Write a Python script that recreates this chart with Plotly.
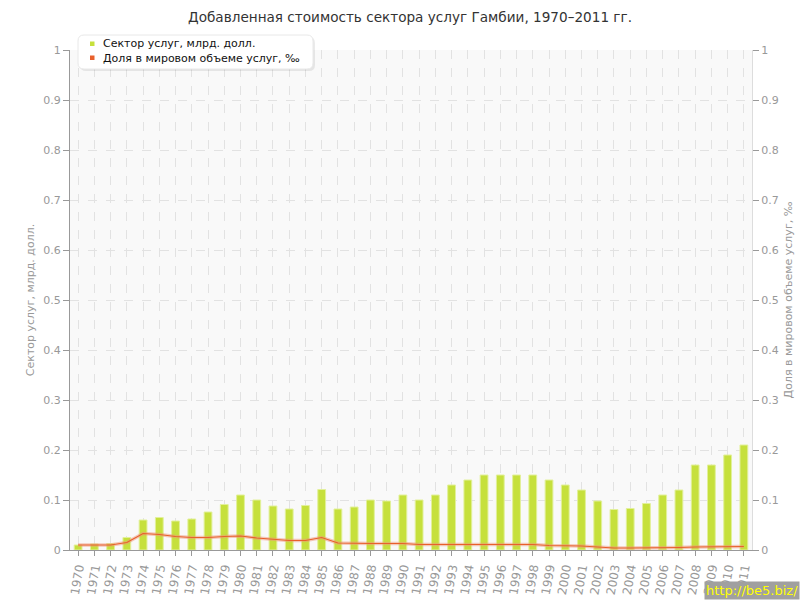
import plotly.graph_objects as go

years = [str(y) for y in range(1970, 2012)]
services = [0.01, 0.012, 0.013, 0.025, 0.06, 0.065, 0.058, 0.062, 0.076, 0.091,
            0.11, 0.10, 0.088, 0.082, 0.089, 0.121, 0.082, 0.086, 0.10, 0.098,
            0.11, 0.10, 0.11, 0.13, 0.14, 0.15, 0.15, 0.15, 0.15, 0.14,
            0.13, 0.12, 0.098, 0.081, 0.083, 0.093, 0.11, 0.12, 0.17, 0.17,
            0.19, 0.21]
share = [0.01, 0.01, 0.01, 0.015, 0.033, 0.031, 0.027, 0.025, 0.025, 0.027,
         0.028, 0.024, 0.021, 0.019, 0.019, 0.025, 0.014, 0.013, 0.013, 0.013,
         0.013, 0.011, 0.011, 0.011, 0.011, 0.011, 0.011, 0.011, 0.011, 0.009,
         0.009, 0.008, 0.006, 0.004, 0.004, 0.004, 0.005, 0.005, 0.006, 0.006,
         0.007, 0.007]
yticks = [0, 0.1, 0.2, 0.3, 0.4, 0.5, 0.6, 0.7, 0.8, 0.9, 1]
yticklabels = ["0", "0.1", "0.2", "0.3", "0.4", "0.5", "0.6", "0.7", "0.8", "0.9", "1"]

FONT = "DejaVu Sans"
GRAY = "#999999"
BAR_NAME = "Сектор услуг, млрд. долл."
LINE_NAME = "Доля в мировом объеме услуг, ‰"
BAR_COLOR = "#c6e03c"
LINE_COLOR = "#e8602c"

W, H = 800, 600
ML, MR, MT, MB = 70, 48, 50, 50
PW, PH = W - ML - MR, H - MT - MB


def px(x):
    return (x - ML) / PW


def py(y):
    return (H - MB - y) / PH


def rounded_rect(x0, y0, x1, y1, r):
    pts = [
        f"M {px(x0 + r)},{py(y0)}",
        f"L {px(x1 - r)},{py(y0)}",
        f"Q {px(x1)},{py(y0)} {px(x1)},{py(y0 + r)}",
        f"L {px(x1)},{py(y1 - r)}",
        f"Q {px(x1)},{py(y1)} {px(x1 - r)},{py(y1)}",
        f"L {px(x0 + r)},{py(y1)}",
        f"Q {px(x0)},{py(y1)} {px(x0)},{py(y1 - r)}",
        f"L {px(x0)},{py(y0 + r)}",
        f"Q {px(x0)},{py(y0)} {px(x0 + r)},{py(y0)}",
    ]
    return " ".join(pts) + " Z"


fig = go.Figure()
fig.add_trace(go.Bar(
    x=years, y=services, name=BAR_NAME, showlegend=False,
    marker=dict(color=BAR_COLOR, line=dict(color="#e2f09a", width=1)),
    width=0.48, yaxis="y"))
fig.add_trace(go.Scatter(
    x=years, y=share, mode="lines", line=dict(color="rgba(240,150,120,0.5)", width=3.5),
    yaxis="y2", showlegend=False, hoverinfo="skip"))
fig.add_trace(go.Scatter(
    x=years, y=share, name=LINE_NAME, showlegend=False,
    mode="lines", line=dict(color=LINE_COLOR, width=1.2), yaxis="y2"))

fig.update_layout(
    width=W, height=H,
    margin=dict(l=ML, r=MR, t=MT, b=MB),
    paper_bgcolor="white", plot_bgcolor="#f9f9f9",
    font=dict(family=FONT, size=11, color=GRAY),
    title=dict(text="Добавленная стоимость сектора услуг Гамбии, 1970–2011 гг.",
               x=410 / W, xanchor="center", y=1 - 17 / H, yanchor="middle",
               font=dict(family=FONT, size=13.6, color="#333333")),
    xaxis=dict(type="category", range=[-0.5, 41.5], tickangle=-80, automargin=False,
               showgrid=True, gridcolor="#e2e2e2", griddash="dash", gridwidth=1,
               showline=True, linecolor="#999999", ticks="outside", ticklen=5,
               tickcolor="#999999", tickfont=dict(size=12, color=GRAY),
               layer="above traces"),
    yaxis=dict(range=[0, 1], tickvals=yticks, ticktext=yticklabels, automargin=False,
               showgrid=True, gridcolor="#e2e2e2", griddash="dash",
               showline=True, linecolor="#999999", ticks="outside", ticklen=6,
               tickcolor="#999999", zeroline=False,
               title=dict(text=BAR_NAME, font=dict(size=11, color=GRAY), standoff=6)),
    yaxis2=dict(range=[0, 1], tickvals=yticks, ticktext=yticklabels, overlaying="y",
                automargin=False,
                side="right", showgrid=False, showline=True, linecolor="#dddddd",
                ticks="outside", ticklen=6, tickcolor="#999999", zeroline=False,
                title=dict(text=LINE_NAME, font=dict(size=11, color=GRAY), standoff=6)),
    showlegend=False,
)

# custom legend (box with shadow, square markers, text)
fig.add_shape(type="path", xref="paper", yref="paper",
              path=rounded_rect(80, 37, 315, 71, 6),
              fillcolor="rgba(0,0,0,0.08)", line=dict(width=0), layer="above")
fig.add_shape(type="path", xref="paper", yref="paper",
              path=rounded_rect(78, 35, 313, 69, 6),
              fillcolor="white", line=dict(color="#e8e8e8", width=1), layer="above")
for label, color, ycen in [(BAR_NAME, BAR_COLOR, 44), (LINE_NAME, LINE_COLOR, 58)]:
    fig.add_shape(type="rect", xref="paper", yref="paper",
                  x0=px(90), x1=px(94.5), y0=py(ycen - 2.5), y1=py(ycen + 2),
                  fillcolor=color, line=dict(width=0), layer="above")
    fig.add_annotation(text=label, xref="paper", yref="paper",
                       x=px(101), y=py(ycen), xanchor="left", yanchor="middle",
                       showarrow=False,
                       font=dict(family=FONT, size=11, color="#111111"))

fig.add_annotation(text="http://be5.biz/", xref="paper", yref="paper",
                   x=px(800), y=py(600), xanchor="right", yanchor="bottom",
                   showarrow=False, bgcolor="#a0a0a0", borderpad=1,
                   font=dict(family=FONT, size=13, color="#ffff00"))

fig.write_html("out.html", config={"displayModeBar": False},
               post_script="document.body.style.margin='0';document.body.style.overflow='hidden';")
